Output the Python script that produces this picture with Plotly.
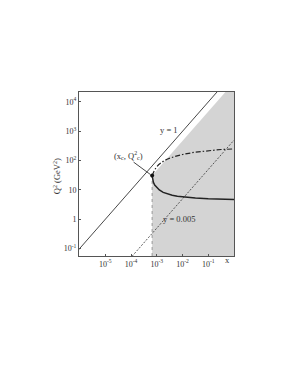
import numpy as np
import plotly.graph_objects as go

# ---- data ----
s_cm = 1e5                      # Q^2 = s * x * y  (GeV^2)
y_lines = [1.0, 0.005]          # constant-y lines
y_edge = 0.47                   # upper edge of shaded region
x_c, Q2_c = 10**-3.18, 10**1.49 # kink point (x_c, Q_c^2)

# solid curve (log10 x, log10 Q^2)
solid_logx = [-3.18, -3.16, -3.13, -3.08, -3.00, -2.90, -2.75, -2.60, -2.40, -2.20, -1.90, -1.50, -1.00, -0.50, 0.0]
solid_logq = [1.49, 1.36, 1.26, 1.17, 1.08, 1.00, 0.92, 0.87, 0.82, 0.785, 0.75, 0.725, 0.70, 0.685, 0.68]

# dash-dot curve
dd_logx = [-3.18, -3.13, -3.08, -3.00, -2.93, -2.80, -2.60, -2.30, -2.00, -1.50, -1.00, -0.50, 0.0]
dd_logq = [1.49, 1.60, 1.69, 1.79, 1.86, 1.95, 2.05, 2.14, 2.21, 2.29, 2.34, 2.38, 2.40]

x_tickvals = [1e-5, 1e-4, 1e-3, 1e-2, 1e-1]
x_ticktext = ["10<sup>-5</sup>", "10<sup>-4</sup>", "10<sup>-3</sup>", "10<sup>-2</sup>", "10<sup>-1</sup>"]
y_tickvals = [1e-1, 1, 10, 1e2, 1e3, 1e4]
y_ticktext = ["10<sup>-1</sup>", "1", "10", "10<sup>2</sup>", "10<sup>3</sup>", "10<sup>4</sup>"]

xr = [-6.02, 0.0]
yr = [-1.25, 4.34]

FONT = "Liberation Serif"
INK = "#333333"

fig = go.Figure()

# shaded region
ybot, ytop = 10**yr[0], 10**yr[1]
x_top = ytop / (s_cm * y_edge)
fig.add_trace(go.Scatter(
    x=[x_c, x_c, x_top, 1.0, 1.0, x_c],
    y=[ybot, s_cm * y_edge * x_c, ytop, ytop, ybot, ybot],
    fill="toself", fillcolor="#d4d4d4", line=dict(width=0),
    mode="lines", hoverinfo="skip", showlegend=False))

# vertical dotted edge at x_c
fig.add_trace(go.Scatter(x=[x_c, x_c], y=[ybot, Q2_c], mode="lines",
                         line=dict(color="#999999", width=1, dash="dot"),
                         showlegend=False))

# constant-y lines
xs = np.array([10**-6.2, 1.0])
fig.add_trace(go.Scatter(x=xs, y=s_cm * y_lines[0] * xs, mode="lines",
                         line=dict(color=INK, width=0.9), showlegend=False))
fig.add_trace(go.Scatter(x=xs, y=s_cm * y_lines[1] * xs, mode="lines",
                         line=dict(color=INK, width=0.8, dash="2px,1.5px"), showlegend=False))

# solid curve
fig.add_trace(go.Scatter(x=[10**v for v in solid_logx], y=[10**v for v in solid_logq],
                         mode="lines", line=dict(color="#222222", width=1.5),
                         showlegend=False))
# dash-dot curve
fig.add_trace(go.Scatter(x=[10**v for v in dd_logx], y=[10**v for v in dd_logq],
                         mode="lines", line=dict(color="#222222", width=1.2, dash="5px,2px,1.5px,2px"),
                         showlegend=False))

# leader line and point
fig.add_trace(go.Scatter(x=[10**-3.90, 10**-3.25], y=[10**1.95, 10**1.53], mode="lines",
                         line=dict(color=INK, width=0.9), showlegend=False))
fig.add_trace(go.Scatter(x=[x_c], y=[Q2_c], mode="markers",
                         marker=dict(color="#111111", size=4), showlegend=False))

axis_common = dict(type="log", showgrid=False, zeroline=False, showline=True,
                   linecolor="#555555", linewidth=1, mirror=True,
                   ticks="inside", ticklen=2, tickcolor="#555555",
                   tickfont=dict(family=FONT, size=8, color=INK))
fig.update_xaxes(range=xr, tickvals=x_tickvals, ticktext=x_ticktext, **axis_common)
fig.update_yaxes(range=yr, tickvals=y_tickvals, ticktext=y_ticktext, **axis_common)

ann_font = dict(family=FONT, size=8.5, color=INK)
fig.update_layout(
    width=295, height=382,
    margin=dict(l=71, r=69, t=84, b=134),
    paper_bgcolor="white", plot_bgcolor="white",
    annotations=[
        dict(text="y = 1", x=0.581, y=0.813, xref="paper", yref="paper", showarrow=False, font=ann_font),
        dict(text="y = 0.005", x=0.645, y=0.185, xref="paper", yref="paper", showarrow=False, font=ann_font),
        dict(text="(x<sub>c</sub>, Q<sup>2</sup><sub>c</sub>)", x=0.215, y=0.612, xref="paper", yref="paper",
             showarrow=False, font=ann_font),
        dict(text="x", x=0.985, y=-0.068, xref="paper", yref="paper", showarrow=False, font=ann_font),
        dict(text="Q<sup>2</sup> (GeV<sup>2</sup>)", x=-0.187, y=0.484, xref="paper", yref="paper",
             showarrow=False, textangle=-90, font=ann_font),
    ],
)

fig.write_html("out.html")
